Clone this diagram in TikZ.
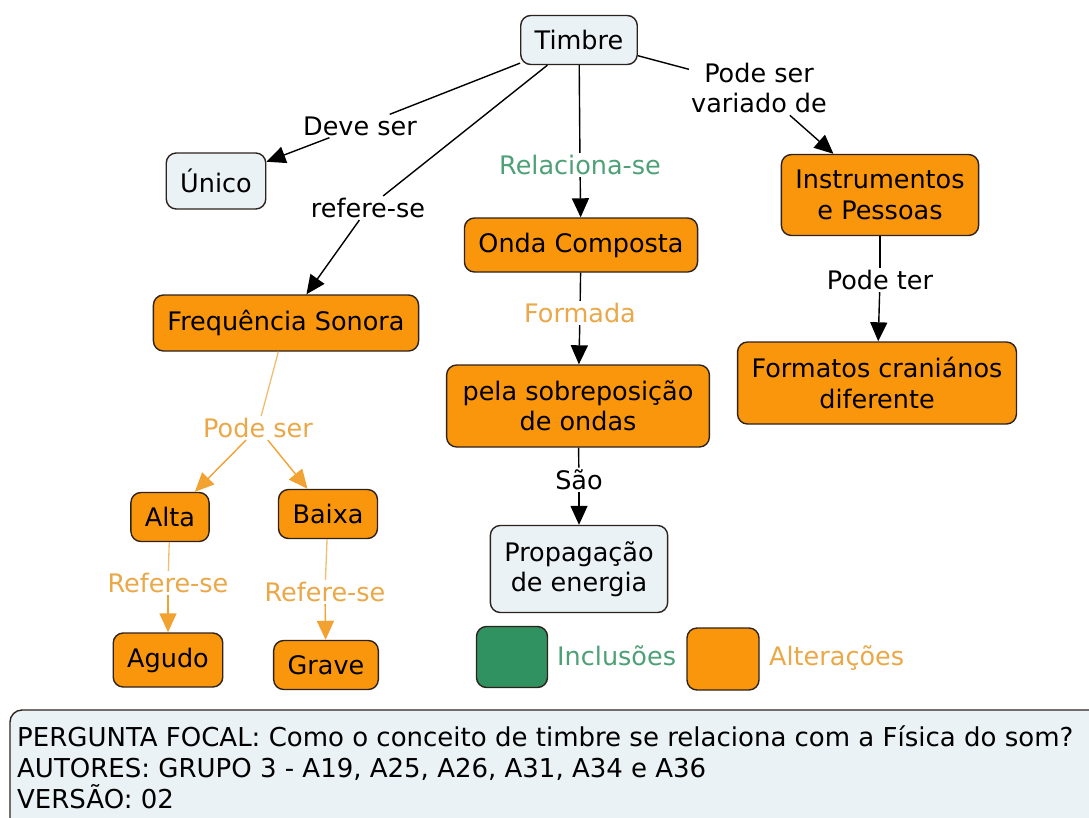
\documentclass[tikz,border=0pt]{standalone}
\usepackage{fontspec}
\setmainfont{DejaVu Sans}
\usetikzlibrary{arrows.meta}
\definecolor{orangefill}{RGB}{250,150,12}
\definecolor{lightfill}{RGB}{235,242,245}
\definecolor{edgec}{RGB}{45,35,30}
\definecolor{greenfill}{RGB}{47,146,96}
\definecolor{greentext}{RGB}{78,160,118}
\definecolor{orangetext}{RGB}{234,168,72}
\definecolor{orangeline}{RGB}{242,162,48}
\definecolor{paleorange}{RGB}{240,190,110}
\newcommand\nodefont{\fontsize{25.5}{30.5}\selectfont}
\newcommand\focalfont{\fontsize{26}{31}\selectfont}
\begin{document}
\begin{tikzpicture}[x=1pt,y=-1pt,
  concept/.style={draw=edgec, line width=1.4pt, rounded corners=10pt, inner xsep=14pt, inner ysep=0pt, minimum height=52pt, align=center, font=\nodefont, text=black},
  orangec/.style={concept, fill=orangefill},
  lightc/.style={concept, fill=lightfill},
  linklabel/.style={inner sep=2pt, font=\nodefont, align=center},
  conn/.style={line width=1.4pt, draw=black},
  arr/.style={conn, -{Triangle[length=19pt,width=17pt]}},
  oconn/.style={line width=1.3pt, draw=paleorange},
  oarr/.style={line width=1.4pt, draw=orangeline, -{Triangle[length=19pt,width=17pt]}},
  legbox/.style={draw=edgec, line width=1.4pt, rounded corners=10pt, inner sep=0pt},
]
\useasboundingbox (0,0) rectangle (1089,817);
\fill[white] (0,0) rectangle (1089,817);

% concepts
\node[lightc, minimum height=49pt] (timbre) at (579,40) {Timbre};
\node[lightc, minimum height=56pt] (unico) at (216,181) {Único};
\node[orangec, minimum height=56pt] (freq) at (286,323) {Frequência Sonora};
\node[orangec, minimum height=54pt] (onda) at (581,245) {Onda Composta};
\node[orangec, minimum height=81pt] (instr) at (880,195) {Instrumentos\\e Pessoas};
\node[orangec, minimum height=82pt] (form) at (877,383) {Formatos craniános\\diferente};
\node[orangec, minimum height=82pt, inner xsep=16pt] (pela) at (578,406) {pela sobreposição\\de ondas};
\node[lightc, minimum height=87pt] (prop) at (579,569) {Propagação\\de energia};
\node[orangec, minimum height=49pt] (alta) at (170,517) {Alta};
\node[orangec, minimum height=49pt] (baixa) at (328,514) {Baixa};
\node[orangec, minimum height=54pt] (agudo) at (168,660) {Agudo};
\node[orangec, minimum height=49pt] (grave) at (326,665) {Grave};

% linking phrases
\node[linklabel] (ldeve) at (360,126) {Deve ser};
\node[linklabel] (lref) at (368,208) {refere-se};
\node[linklabel, text=greentext] (lrel) at (580,165) {Relaciona-se};
\node[linklabel] (lvar) at (759,88) {Pode ser\\variado de};
\node[linklabel] (lter) at (880,280) {Pode ter};
\node[linklabel, text=orangetext] (lformada) at (580,313) {Formada};
\node[linklabel] (lsao) at (579,480) {São};
\node[linklabel, text=orangetext] (lpode) at (258,428) {Pode ser};
\node[linklabel, text=orangetext] (lref1) at (168,583) {Refere-se};
\node[linklabel, text=orangetext] (lref2) at (325,592) {Refere-se};

% connectors
\draw[conn] (timbre) -- (ldeve);
\draw[arr] (ldeve) -- (unico);
\draw[conn] (timbre) -- (lref);
\draw[arr] (lref) -- (freq);
\draw[conn] (timbre) -- (lrel);
\draw[arr] (lrel) -- (onda);
\draw[conn] (timbre) -- (lvar);
\draw[arr] (lvar) -- (instr);
\draw[conn] (instr) -- (lter);
\draw[arr] (lter) -- (form);
\draw[conn] (onda) -- (lformada);
\draw[arr] (lformada) -- (pela);
\draw[conn] (pela) -- (lsao);
\draw[arr] (lsao) -- (prop);
\draw[oconn] (freq) -- (lpode);
\draw[oarr] (lpode) -- (alta);
\draw[oarr] (lpode) -- (baixa);
\draw[oconn] (alta) -- (lref1);
\draw[oarr] (lref1) -- (agudo);
\draw[oconn] (baixa) -- (lref2);
\draw[oarr] (lref2) -- (grave);

% legend
\node[legbox, fill=greenfill, minimum width=71pt, minimum height=61pt] (leggreen) at (512,657) {};
\node[font=\nodefont, text=greentext, anchor=west, inner sep=0pt] (leggreentext) at (557,656) {Inclusões};
\node[legbox, fill=orangefill, minimum width=72pt, minimum height=62pt] (legorange) at (723,659) {};
\node[font=\nodefont, text=orangetext, anchor=west, inner sep=0pt] (legorangetext) at (769,658) {Alterações};

% focal question box
\begin{scope}
\clip (0,0) rectangle (1089,817);
\draw[draw=edgec, fill=lightfill, line width=1.4pt, rounded corners=12pt] (10,710) rectangle (1120,850);
\end{scope}
\node[anchor=west, align=left, inner sep=0pt, font=\focalfont] (focal) at (17,767) {PERGUNTA FOCAL: Como o conceito de timbre se relaciona com a Física do som?\\AUTORES: GRUPO 3 - A19, A25, A26, A31, A34 e A36\\VERSÃO: 02};
\end{tikzpicture}
\end{document}
